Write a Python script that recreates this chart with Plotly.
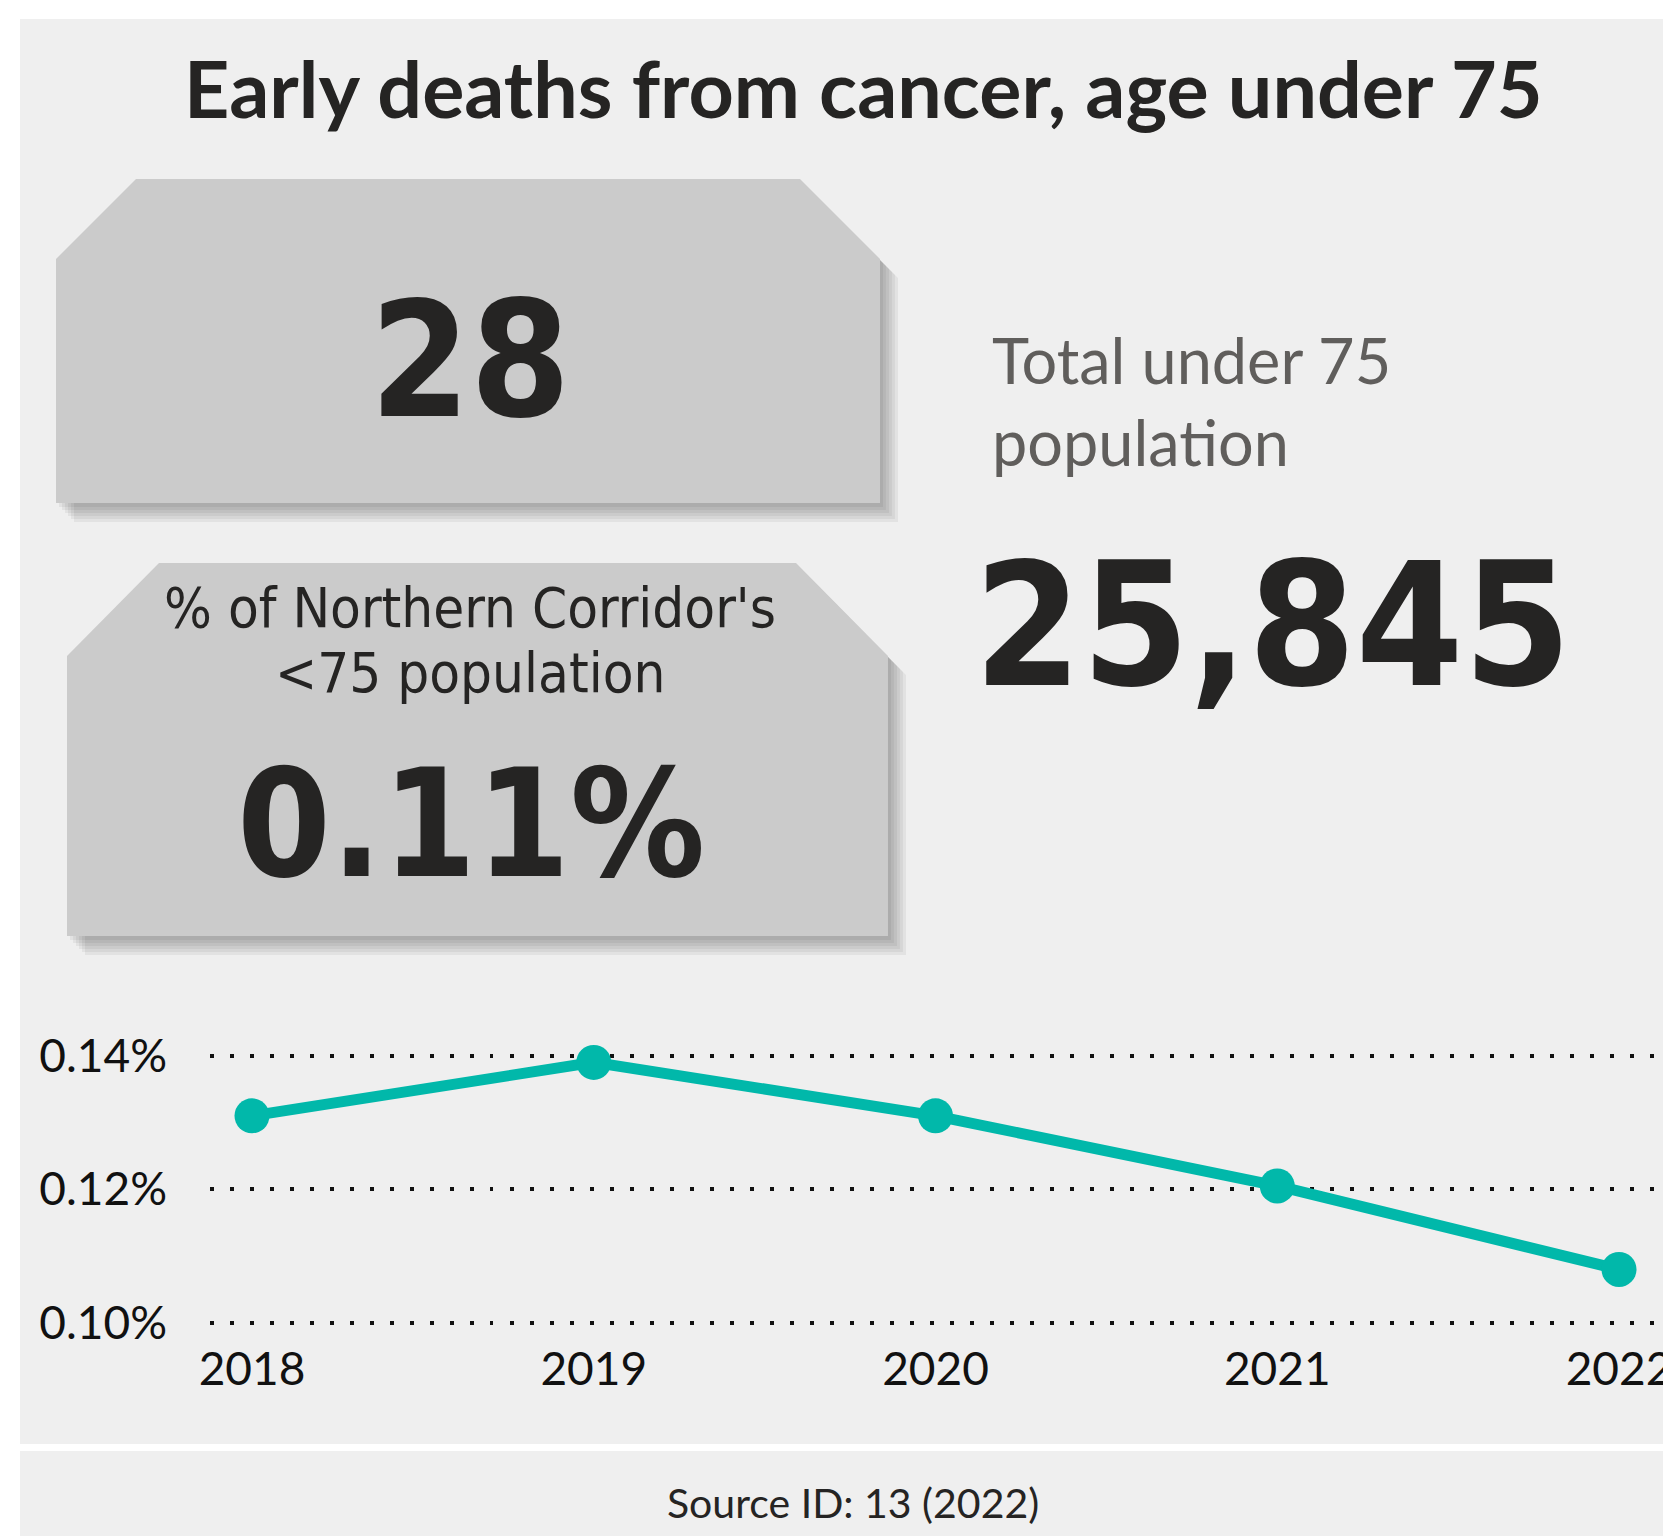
import plotly.graph_objects as go

# ---------------- data ----------------
years = [2018, 2019, 2020, 2021, 2022]
rates = [0.131, 0.139, 0.131, 0.1205, 0.108]          # % of under-75 population
ytick_vals = [0.10, 0.12, 0.14]
ytick_text = ["0.10%", "0.12%", "0.14%"]
xtick_text = ["2018", "2019", "2020", "2021", "2022"]
early_deaths = 28
population_u75 = 25845
share_label = "0.11%"

title_text = "Early deaths from cancer, age under 75"
pop_label = "Total under 75<br>population"
share_caption_lines = ["% of Northern Corridor's", "<75 population"]
source_text = "Source ID: 13 (2022)"

# ---------------- geometry helpers (page pixel coords) ----------------
W, H = 1663, 1536


def px(x):
    return x / W


def py(y):
    return 1 - y / H


def poly_path(pts, dx=0, dy=0):
    return "M " + " L ".join(f"{px(x + dx):.5f},{py(y + dy):.5f}" for x, y in pts) + " Z"


DARK = "#252423"
GREY_TXT = "#605e5c"
PANEL = "#efefef"
BOX = "#cbcbcb"
TEAL = "#01b8aa"
SEGOE = "Lato, 'Open Sans', sans-serif"
DIN = "'DejaVu Sans Condensed', 'DejaVu Sans', sans-serif"

fig = go.Figure()

fig.add_trace(go.Scatter(
    x=years, y=rates, mode="lines+markers",
    line=dict(color=TEAL, width=11),
    marker=dict(color=TEAL, size=35),
    hoverinfo="skip", showlegend=False, cliponaxis=False,
))

shapes = []
# panels
shapes.append(dict(type="rect", xref="paper", yref="paper", x0=px(20), x1=px(W + 20), y0=py(19), y1=py(1444),
                   fillcolor=PANEL, line=dict(width=0), layer="below"))
shapes.append(dict(type="rect", xref="paper", yref="paper", x0=px(20), x1=px(W + 20), y0=py(1451),
                   y1=py(H + 20), fillcolor=PANEL, line=dict(width=0), layer="below"))

box1 = [(56, 259), (136, 179), (800, 179), (880, 259), (880, 503), (56, 503)]
box2 = [(67, 656), (159, 563), (796, 563), (888, 656), (888, 936), (67, 936)]
for box in (box1, box2):
    for d in (3, 6, 9, 12, 15, 18):
        shapes.append(dict(type="path", xref="paper", yref="paper", path=poly_path(box, d, d + 1),
                           fillcolor="rgba(0,0,0,0.05)", line=dict(width=0), layer="below"))
    shapes.append(dict(type="path", xref="paper", yref="paper", path=poly_path(box),
                       fillcolor=BOX, line=dict(width=0), layer="below"))

annotations = []


def ann(text, x, y, size, family, color=DARK, xanchor="center", yanchor="middle", align="center"):
    annotations.append(dict(text=text, xref="paper", yref="paper", x=px(x), y=py(y), showarrow=False,
                            xanchor=xanchor, yanchor=yanchor, align=align,
                            font=dict(size=size, family=family, color=color)))


ann(f"<b>{title_text}</b>", 863, 88, 79, SEGOE)
ann(f"<b>{early_deaths}</b>", 470, 360, 160, DIN)
ann(share_caption_lines[0], 470, 607, 56, DIN)
ann(share_caption_lines[1], 470, 672, 56, DIN)
ann(f"<b>{share_label}</b>", 471, 824, 150, DIN)
ann(pop_label, 990, 400, 63, SEGOE, color=GREY_TXT, xanchor="left", align="left")
ann(f"<b>{population_u75:,}</b>", 1272, 626, 172, DIN)
ann(source_text, 853, 1502, 41, SEGOE)

# chart area geometry (page px)
grid_top_px, per_unit = 1055.7, 6680.0   # px of 0.14 gridline, px per 1 %
y_top_px, y_bot_px = 1000, 1335
y_hi = 0.14 + (grid_top_px - y_top_px) / per_unit
y_lo = 0.14 - (y_bot_px - grid_top_px) / per_unit
x_step = 341.75
x_left_px, x_right_px = 210, W
x_lo = 2018 - (252 - x_left_px) / x_step
x_hi = 2022 + (x_right_px - 1619) / x_step

fig.update_layout(
    width=W, height=H,
    margin=dict(l=0, r=0, t=0, b=0, pad=0, autoexpand=False),
    paper_bgcolor="white", plot_bgcolor="rgba(0,0,0,0)",
    shapes=shapes, annotations=annotations,
    xaxis=dict(domain=[px(x_left_px), 1], range=[x_lo, x_hi], tickvals=years, ticktext=xtick_text,
               showgrid=False, zeroline=False, showline=False, ticks="", automargin=False,
               ticklabelstandoff=3, ticklabeloverflow="allow",
               tickfont=dict(size=46, family=SEGOE, color="#111111"), fixedrange=True),
    yaxis=dict(domain=[py(y_bot_px), py(y_top_px)], range=[y_lo, y_hi], tickvals=ytick_vals,
               ticktext=ytick_text, showgrid=True, gridcolor="#111111", gridwidth=3.5,
               griddash="3.5px,16.5px", zeroline=False, showline=False, ticks="", automargin=False,
               ticklabelstandoff=42,
               tickfont=dict(size=46, family=SEGOE, color="#111111"), fixedrange=True),
)

fig.write_html("out.html", config={"displayModeBar": False},
               post_script="document.body.style.margin='0';document.body.style.overflow='hidden';")
